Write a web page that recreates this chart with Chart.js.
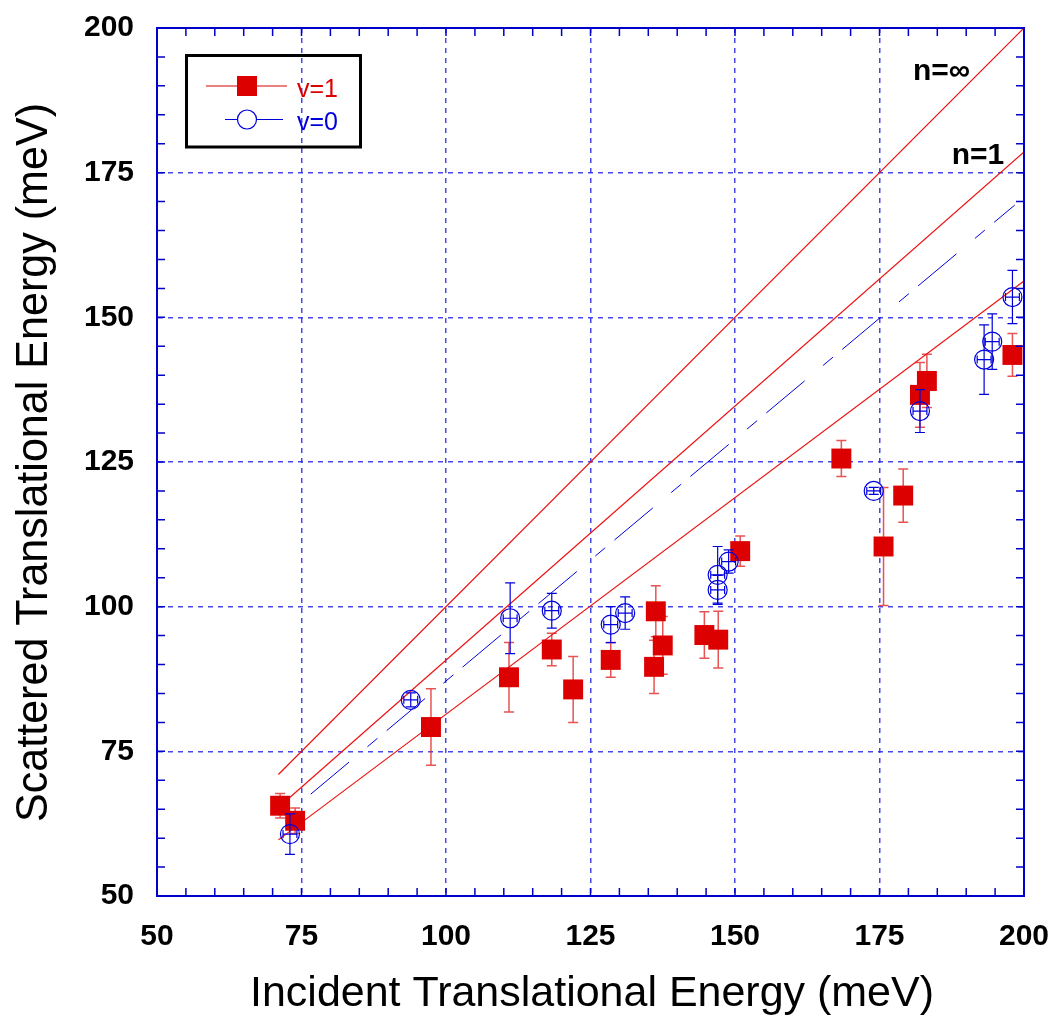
<!DOCTYPE html>
<html><head><meta charset="utf-8">
<script src="https://cdn.jsdelivr.net/npm/chart.js@4.4.0/dist/chart.umd.min.js"></script>
<style>html,body{margin:0;padding:0;background:#fff;}#wrap{width:1057px;height:1017px;}</style>
</head><body><div id="wrap"><canvas id="c" width="1057" height="1017"></canvas></div>
<script>
// ---- data ----
const v1X   = [71.3, 73.9, 97.4, 110.9, 118.3, 122.0, 128.5, 136.3, 136.0, 137.5, 144.7, 147.1, 150.9, 168.4, 175.7, 179.1, 182.0, 183.2, 198.0];
const v1Y   = [65.6, 63.0, 79.2, 87.8, 92.6, 85.7, 90.8, 99.2, 89.6, 93.3, 95.1, 94.3, 109.6, 125.6, 110.4, 119.2, 136.6, 139.0, 143.5];
const v1Err = [2.1, 2.2, 6.6, 6.0, 2.8, 5.7, 3.0, 4.4, 4.6, 5.0, 4.0, 4.9, 2.6, 3.1, 10.2, 4.6, 5.6, 4.6, 3.7];
const v0X   = [73.0, 93.9, 111.1, 118.3, 128.5, 131.0, 147.0, 147.0, 148.9, 174.0, 182.0, 193.1, 194.5, 198.0];
const v0Y   = [60.7, 83.9, 98.0, 99.3, 96.9, 98.9, 102.9, 105.5, 107.8, 120.0, 133.8, 142.7, 145.8, 153.5];
const v0Err = [3.5, 1.2, 6.1, 3.0, 3.1, 2.8, 2.5, 4.9, 2.0, 0.6, 3.7, 6.0, 4.8, 4.6];
const v0XErr= [1.2, 1.2, 1.2, 1.2, 1.2, 1.2, 1.2, 1.2, 1.2, 1.2, 1.2, 1.2, 1.2, 1.2];
const nInfX = [71, 200];
const nInfY = [71, 200];
const n1X   = [71, 200];
const n1Y   = [65.3, 178.6];
const lowX  = [71, 200];
const lowY  = [59.7, 156.3];
const fitX  = [76.6, 198.4];
const fitY  = [67.6, 169.4];
const lineLabels = ['n=\u221E', 'n=1'];
const lineLabelX = [180.8, 187.5];
const lineLabelY = [191.0, 176.5];
const legendLabels = ['v=1', 'v=0'];
const xTitle = 'Incident Translational Energy (meV)';
const yTitle = 'Scattered Translational Energy (meV)';

const pts = (xs, ys) => xs.map((x, i) => ({x: x, y: ys[i]}));
const RED = '#dd0000', BLUE = '#0000dd', AXIS = '#0000cc', LINE = '#ee1111';
const FONT = "'Liberation Sans', Arial, Helvetica, sans-serif";

function drawErr(ctx, xs, ys, xe, ye, sx, sy, color, lw, cap, xcap) {
  ctx.save();
  ctx.strokeStyle = color; ctx.lineWidth = lw;
  for (let i = 0; i < xs.length; i++) {
    const px = sx.getPixelForValue(xs[i]);
    const py = sy.getPixelForValue(ys[i]);
    if (ye) {
      const t = sy.getPixelForValue(ys[i] + ye[i]), b = sy.getPixelForValue(ys[i] - ye[i]);
      ctx.beginPath();
      ctx.moveTo(px, t); ctx.lineTo(px, b);
      ctx.moveTo(px - cap, t); ctx.lineTo(px + cap, t);
      ctx.moveTo(px - cap, b); ctx.lineTo(px + cap, b);
      ctx.stroke();
    }
    if (xe) {
      const l = sx.getPixelForValue(xs[i] - xe[i]), r = sx.getPixelForValue(xs[i] + xe[i]);
      ctx.beginPath();
      ctx.moveTo(l, py); ctx.lineTo(r, py);
      ctx.moveTo(l, py - xcap); ctx.lineTo(l, py + xcap);
      ctx.moveTo(r, py - xcap); ctx.lineTo(r, py + xcap);
      ctx.stroke();
    }
  }
  ctx.restore();
}

function stretchText(ctx, text, cx, cy, targetW, font, rot) {
  ctx.save();
  ctx.font = font;
  const w = ctx.measureText(text).width;
  ctx.translate(cx, cy);
  if (rot) ctx.rotate(-Math.PI / 2);
  ctx.scale(targetW / w, 1);
  ctx.textAlign = 'center'; ctx.textBaseline = 'alphabetic';
  ctx.fillStyle = '#000';
  ctx.fillText(text, 0, 0);
  ctx.restore();
}

const decor = {
  id: 'decor',
  beforeDatasetsDraw(chart) {
    const {ctx, scales: {x, y}} = chart;
    drawErr(ctx, v1X, v1Y, null, v1Err, x, y, 'rgba(225,40,40,0.8)', 1.5, 5, 0);
  },
  afterDatasetsDraw(chart) {
    const {ctx, scales: {x, y}} = chart;
    drawErr(ctx, v0X, v0Y, v0XErr, v0Err, x, y, BLUE, 1.2, 5, 4);
  },
  afterDraw(chart) {
    const {ctx, chartArea: a, scales: {x, y}} = chart;
    ctx.save();
    ctx.strokeStyle = AXIS; ctx.lineWidth = 1.5;
    ctx.beginPath();
    for (let v = 50; v <= 200; v += 5) {
      const px = x.getPixelForValue(v), py = y.getPixelForValue(v);
      ctx.moveTo(px, a.bottom); ctx.lineTo(px, a.bottom - 8);
      ctx.moveTo(px, a.top); ctx.lineTo(px, a.top + 8);
      ctx.moveTo(a.left, py); ctx.lineTo(a.left + 8, py);
      ctx.moveTo(a.right, py); ctx.lineTo(a.right - 8, py);
    }
    ctx.stroke();
    ctx.lineWidth = 2;
    ctx.strokeRect(a.left, a.top, a.right - a.left, a.bottom - a.top);
    ctx.fillStyle = '#000';
    ctx.font = 'bold 30px ' + FONT;
    ctx.textAlign = 'left'; ctx.textBaseline = 'alphabetic';
    for (let i = 0; i < lineLabels.length; i++) {
      ctx.fillText(lineLabels[i], x.getPixelForValue(lineLabelX[i]), y.getPixelForValue(lineLabelY[i]));
    }
    ctx.lineWidth = 3; ctx.strokeStyle = '#000';
    ctx.strokeRect(186.5, 55.5, 174, 91.5);
    ctx.lineWidth = 1; ctx.strokeStyle = RED;
    ctx.beginPath(); ctx.moveTo(206, 86); ctx.lineTo(287, 86); ctx.stroke();
    ctx.fillStyle = RED; ctx.fillRect(237, 76, 20, 20);
    ctx.strokeStyle = BLUE;
    ctx.beginPath(); ctx.moveTo(225, 119.5); ctx.lineTo(283, 119.5); ctx.stroke();
    ctx.fillStyle = '#fff';
    ctx.beginPath(); ctx.arc(247, 119.5, 9.5, 0, Math.PI * 2); ctx.fill();
    ctx.lineWidth = 1.2;
    ctx.beginPath(); ctx.arc(247, 119.5, 9.5, 0, Math.PI * 2); ctx.stroke();
    ctx.font = '25px ' + FONT;
    ctx.fillStyle = RED; ctx.fillText(legendLabels[0], 297, 97);
    ctx.fillStyle = BLUE; ctx.fillText(legendLabels[1], 297, 130);
    ctx.restore();
    stretchText(ctx, xTitle, 592, 1006, 684, '42px ' + FONT, false);
    stretchText(ctx, yTitle, 47, 462.5, 719, '44px ' + FONT, true);
  }
};

new Chart(document.getElementById('c'), {
  type: 'scatter',
  data: {
    datasets: [
      {label: 'v=0', data: pts(v0X, v0Y), pointStyle: 'circle', pointRadius: 9.5,
       pointBackgroundColor: 'rgba(0,0,0,0)', pointBorderColor: BLUE, pointBorderWidth: 1.2, showLine: false, order: 1},
      {label: 'v=1', data: pts(v1X, v1Y), pointStyle: 'rect', pointRadius: 14.1,
       pointBackgroundColor: RED, pointBorderColor: RED, pointBorderWidth: 0, showLine: false, order: 2},
      {type: 'line', label: 'n=inf', data: pts(nInfX, nInfY), borderColor: LINE, backgroundColor: LINE, borderWidth: 1.2, pointRadius: 0, fill: false, order: 3},
      {type: 'line', label: 'n=1', data: pts(n1X, n1Y), borderColor: LINE, backgroundColor: LINE, borderWidth: 1.2, pointRadius: 0, fill: false, order: 3},
      {type: 'line', label: 'low', data: pts(lowX, lowY), borderColor: LINE, backgroundColor: LINE, borderWidth: 1.2, pointRadius: 0, fill: false, order: 3},
      {type: 'line', label: 'fit', data: pts(fitX, fitY), borderColor: BLUE, backgroundColor: BLUE, borderWidth: 1, borderDash: [50, 24, 13, 12], pointRadius: 0, fill: false, order: 3}
    ]
  },
  options: {
    responsive: false, animation: false,
    layout: {padding: {left: 0, top: 28, right: 33, bottom: 0}},
    plugins: {legend: {display: false}, tooltip: {enabled: false}},
    scales: {
      x: {type: 'linear', min: 50, max: 200,
          ticks: {stepSize: 25, color: '#000', font: {family: FONT, size: 30, weight: 'bold'}, padding: 23, maxRotation: 0},
          grid: {color: 'rgba(40,40,230,0.85)', lineWidth: 1.5, drawTicks: false},
          border: {display: true, color: AXIS, width: 2, dash: [5, 5]},
          afterFit(s) { s.height = 121; s.paddingLeft = 0; s.paddingRight = 0; s.paddingTop = 0; s.paddingBottom = 0; }},
      y: {type: 'linear', min: 50, max: 200,
          ticks: {stepSize: 25, color: '#000', font: {family: FONT, size: 30, weight: 'bold'}, padding: 23},
          grid: {color: 'rgba(40,40,230,0.85)', lineWidth: 1.5, drawTicks: false},
          border: {display: true, color: AXIS, width: 2, dash: [5, 5]},
          afterFit(s) { s.width = 157; s.paddingLeft = 0; s.paddingRight = 0; s.paddingTop = 0; s.paddingBottom = 0; }}
    }
  },
  plugins: [decor]
});
</script>
</body></html>
